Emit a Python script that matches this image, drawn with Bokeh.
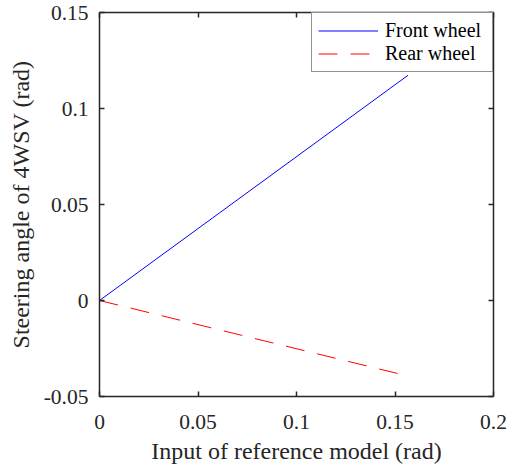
from bokeh.plotting import figure
from bokeh.models import (Range1d, FixedTicker, LinearAxis, Legend, LegendItem,
                          CustomJSTickFormatter)
from bokeh.embed import file_html
from bokeh.resources import INLINE

# ---- data ----
front_input = [0.0, 0.1566]
front_angle = [0.0, 0.1173]
rear_input = [0.0, 0.1513]
rear_angle = [0.0, -0.0380]

x_ticks = [0.0, 0.05, 0.1, 0.15, 0.2]
y_ticks = [-0.05, 0.0, 0.05, 0.1, 0.15]
x_label = "Input of reference model (rad)"
y_label = "Steering angle of 4WSV (rad)"
series_names = ["Front wheel", "Rear wheel"]

FONT = "Liberation Serif"
AX = "#262626"

p = figure(width=518, height=466, output_backend="svg", toolbar_location=None,
           x_range=Range1d(0, 0.2), y_range=Range1d(-0.05, 0.15),
           x_axis_location=None, y_axis_location=None,
           min_border_left=99, min_border_right=25, min_border_top=12,
           min_border_bottom=70)
p.outline_line_color = None
p.xgrid.visible = False
p.ygrid.visible = False
p.background_fill_color = "white"
p.border_fill_color = "white"

fmt = CustomJSTickFormatter(code="""
var s = tick.toFixed(2);
s = s.replace(/0+$/, '').replace(/\\.$/, '');
if (s === '-0') s = '0';
return s;
""")
blank = CustomJSTickFormatter(code="return '';")


def style_axis(ax, labels=True):
    ax.axis_line_color = AX
    ax.axis_line_width = 1.5
    ax.major_tick_line_color = AX
    ax.major_tick_line_width = 1.5
    ax.major_tick_in = 5
    ax.major_tick_out = 0
    ax.minor_tick_line_color = None
    if labels:
        ax.formatter = fmt
        ax.major_label_text_font = FONT
        ax.major_label_text_font_size = "21.5px"
        ax.major_label_text_color = AX
        ax.axis_label_text_font = FONT
        ax.axis_label_text_font_size = "24px"
        ax.axis_label_text_font_style = "normal"
        ax.axis_label_text_color = AX
    else:
        ax.formatter = blank
        ax.major_label_text_font_size = "0px"
        ax.major_label_standoff = 0


xb = LinearAxis(ticker=FixedTicker(ticks=x_ticks), axis_label=x_label)
style_axis(xb)
xb.major_label_standoff = 18
xb.axis_label_standoff = 6
p.add_layout(xb, "below")

yl = LinearAxis(ticker=FixedTicker(ticks=y_ticks), axis_label=y_label)
style_axis(yl)
yl.major_label_standoff = 11
yl.axis_label_standoff = 7
p.add_layout(yl, "left")

xt = LinearAxis(ticker=FixedTicker(ticks=x_ticks))
style_axis(xt, labels=False)
p.add_layout(xt, "above")

yr = LinearAxis(ticker=FixedTicker(ticks=y_ticks))
style_axis(yr, labels=False)
p.add_layout(yr, "right")

r_front = p.line(front_input, front_angle, line_color="#0000FF", line_width=1)
r_rear = p.line(rear_input, rear_angle, line_color="#FF0000", line_width=1,
                line_dash="19 13")

legend = Legend(items=[LegendItem(label=series_names[0], renderers=[r_front]),
                       LegendItem(label=series_names[1], renderers=[r_rear])],
                location="top_right", margin=0, padding=6, spacing=0,
                label_standoff=7, glyph_width=60, glyph_height=21,
                label_height=21, label_width=101,
                label_text_font=FONT, label_text_font_size="20px",
                label_text_color="black",
                border_line_color=AX, border_line_width=1,
                background_fill_color="white", background_fill_alpha=1)
p.add_layout(legend, "center")

open("out.html", "w").write(file_html(p, INLINE))
